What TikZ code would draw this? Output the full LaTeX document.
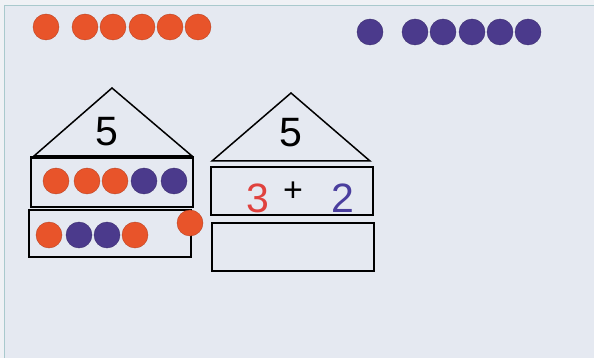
\documentclass[tikz,border=0pt]{standalone}
\usepackage{fontspec}
\setmainfont{Liberation Sans}
\begin{document}
\begin{tikzpicture}[x=1pt,y=-1pt,
  dotO/.style={circle,fill=dotorange,draw=dotorange!80!black,line width=0.4pt,inner sep=0pt,minimum size=26pt},
  dotP/.style={circle,fill=dotpurple,draw=dotpurple!80!black,line width=0.4pt,inner sep=0pt,minimum size=26pt},
  box/.style={draw=black,line width=1.5pt,inner sep=0pt},
  roof/.style={draw=black,line width=1.5pt,line join=miter},
  digit/.style={inner sep=0pt,font=\fontsize{41}{41}\selectfont}]
\definecolor{dotorange}{HTML}{E8542A}
\definecolor{dotpurple}{HTML}{4B3A8C}
\definecolor{panel}{HTML}{E5E9F1}
\definecolor{outside}{HTML}{EFF1F5}
\definecolor{rim}{HTML}{A9C9CD}
\definecolor{handred}{HTML}{E0423E}
\definecolor{handblue}{HTML}{4A3E9E}
\useasboundingbox (0,0) rectangle (594,358);
\fill[outside] (0,0) rectangle (594,358);
\fill[panel] (4,6) rectangle (594,358);
\draw[rim,line width=1pt] (4,358) -- (4,6) -- (594,6);
% top row dots
\foreach \x [count=\i] in {46,85,113,142,170,198} \node[dotO] (to\i) at (\x,27) {};
\foreach \x [count=\i] in {370,415,443,472,500,528} \node[dotP] (tp\i) at (\x,32) {};
% house 1
\draw[roof] (34,156) -- (112,88) -- (192,156) -- cycle;
\node[digit] (h1five) at (107,132) {5};
\node[box,minimum width=162pt,minimum height=49pt] (h1top) at (112,182.5) {};
\draw[line width=2.5pt] (h1top.north west) -- (h1top.north east);
\node[box,minimum width=162pt,minimum height=47pt] (h1bot) at (110,233.5) {};
\node[dotO] (a1) at (56,181) {};
\node[dotO] (a2) at (87,181) {};
\node[dotO] (a3) at (115,181) {};
\node[dotP] (a4) at (144,181) {};
\node[dotP] (a5) at (174,181) {};
\node[dotO] (b1) at (49,235) {};
\node[dotP] (b2) at (79,235) {};
\node[dotP] (b3) at (107,235) {};
\node[dotO] (b4) at (135,235) {};
\node[dotO] (extra) at (190,223) {};
% house 2
\draw[roof] (212,161) -- (291,93) -- (370,161) -- cycle;
\node[digit] (h2five) at (291,133) {5};
\node[box,minimum width=162pt,minimum height=48pt] (h2top) at (292,191) {};
\node[box,minimum width=162pt,minimum height=48pt] (h2bot) at (293,247) {};
\node[digit,text=handred] (three) at (258,198) {3};
\node[digit,font=\fontsize{34}{34}\selectfont] (plus) at (293,192) {+};
\node[digit,text=handblue] (two) at (343,198) {2};
\end{tikzpicture}
\end{document}
